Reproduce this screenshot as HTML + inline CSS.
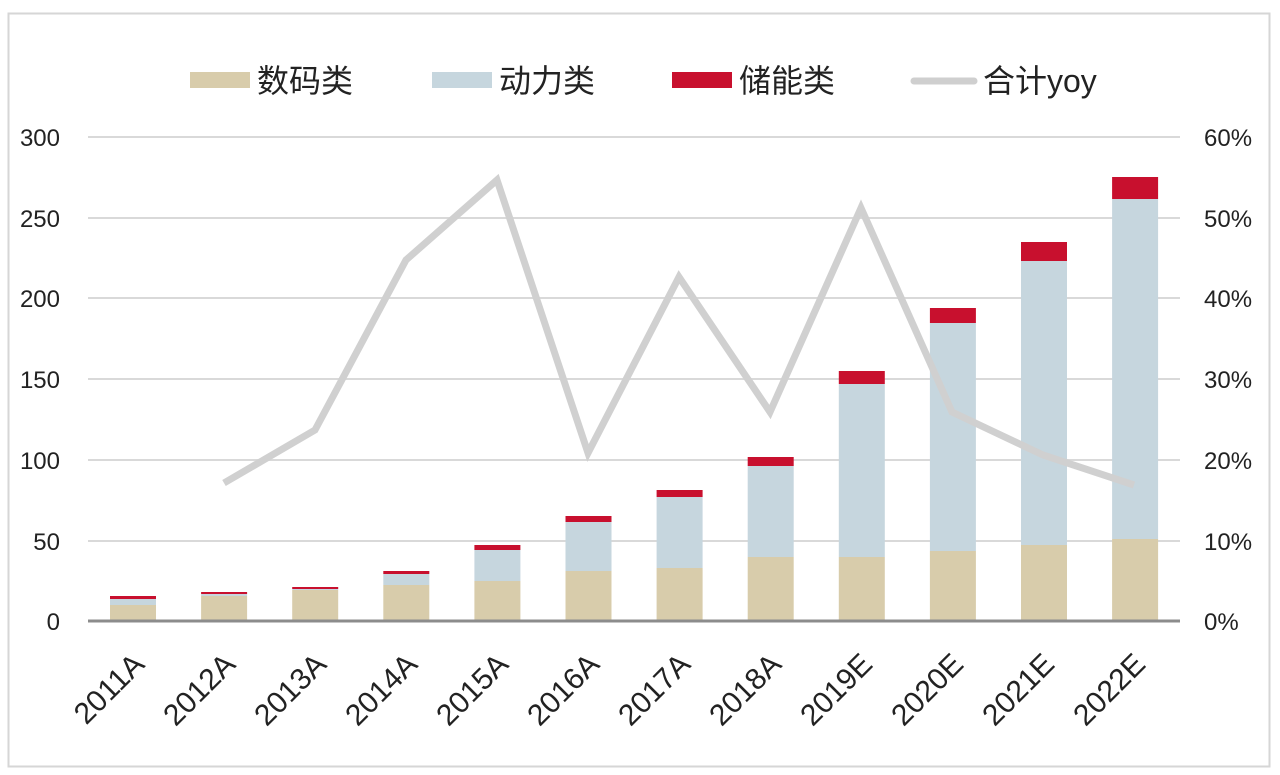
<!DOCTYPE html>
<html><head><meta charset="utf-8"><style>
html,body{margin:0;padding:0;background:#fff;}
svg{display:block;font-family:"Liberation Sans","Noto Sans CJK SC",sans-serif;}
</style></head><body>
<svg width="1280" height="775" viewBox="0 0 1280 775" xmlns="http://www.w3.org/2000/svg">
<rect x="8.5" y="13.5" width="1261" height="753" fill="#fff" stroke="#d6d6d6" stroke-width="2"/>
<rect x="190" y="72" width="60" height="16" fill="#d8ccab"/>
<text x="257" y="92" font-size="32" fill="#222">数码类</text>
<rect x="432" y="72" width="60" height="16" fill="#c6d6de"/>
<text x="499" y="92" font-size="32" fill="#222">动力类</text>
<rect x="672" y="72" width="60" height="16" fill="#c8102e"/>
<text x="739" y="92" font-size="32" fill="#222">储能类</text>
<line x1="914" y1="81" x2="974" y2="81" stroke="#cfcfcf" stroke-width="7" stroke-linecap="round"/>
<text x="983" y="92" font-size="32" fill="#222">合计yoy</text>
<g stroke="#d9d9d9" stroke-width="2">
<line x1="88" y1="137" x2="1180" y2="137"/>
<line x1="88" y1="218" x2="1180" y2="218"/>
<line x1="88" y1="298" x2="1180" y2="298"/>
<line x1="88" y1="379" x2="1180" y2="379"/>
<line x1="88" y1="460" x2="1180" y2="460"/>
<line x1="88" y1="541" x2="1180" y2="541"/>
</g>
<g font-size="24" fill="#222" text-anchor="end">
<text x="60" y="146">300</text><text x="60" y="227">250</text><text x="60" y="307">200</text>
<text x="60" y="388">150</text><text x="60" y="469">100</text><text x="60" y="550">50</text><text x="60" y="630">0</text>
</g>
<g font-size="24" fill="#222">
<text x="1204" y="146">60%</text><text x="1204" y="227">50%</text><text x="1204" y="307">40%</text>
<text x="1204" y="388">30%</text><text x="1204" y="469">20%</text><text x="1204" y="550">10%</text><text x="1204" y="630">0%</text>
</g>
<g fill="#d8ccab">
<rect x="110" y="605" width="46" height="16"/>
<rect x="201.1" y="596" width="46" height="25"/>
<rect x="292.2" y="590" width="46" height="31"/>
<rect x="383.3" y="585" width="46" height="36"/>
<rect x="474.4" y="581" width="46" height="40"/>
<rect x="565.5" y="571" width="46" height="50"/>
<rect x="656.6" y="568" width="46" height="53"/>
<rect x="747.7" y="557" width="46" height="64"/>
<rect x="838.8" y="557" width="46" height="64"/>
<rect x="929.9" y="551" width="46" height="70"/>
<rect x="1021" y="545" width="46" height="76"/>
<rect x="1112.1" y="539" width="46" height="82"/>
</g>
<g fill="#c6d6de">
<rect x="110" y="599" width="46" height="6"/>
<rect x="201.1" y="594" width="46" height="2"/>
<rect x="292.2" y="589" width="46" height="1"/>
<rect x="383.3" y="574" width="46" height="11"/>
<rect x="474.4" y="550" width="46" height="31"/>
<rect x="565.5" y="522" width="46" height="49"/>
<rect x="656.6" y="497" width="46" height="71"/>
<rect x="747.7" y="466" width="46" height="91"/>
<rect x="838.8" y="384" width="46" height="173"/>
<rect x="929.9" y="323" width="46" height="228"/>
<rect x="1021" y="261" width="46" height="284"/>
<rect x="1112.1" y="199" width="46" height="340"/>
</g>
<g fill="#c8102e">
<rect x="110" y="596" width="46" height="3"/>
<rect x="201.1" y="592" width="46" height="2"/>
<rect x="292.2" y="587" width="46" height="2"/>
<rect x="383.3" y="571" width="46" height="3"/>
<rect x="474.4" y="545" width="46" height="5"/>
<rect x="565.5" y="516" width="46" height="6"/>
<rect x="656.6" y="490" width="46" height="7"/>
<rect x="747.7" y="457" width="46" height="9"/>
<rect x="838.8" y="371" width="46" height="13"/>
<rect x="929.9" y="308" width="46" height="15"/>
<rect x="1021" y="242" width="46" height="19"/>
<rect x="1112.1" y="177" width="46" height="22"/>
</g>
<line x1="88" y1="621" x2="1180" y2="621" stroke="#8c8c8c" stroke-width="3"/>
<polyline fill="none" stroke="#d0d0d0" stroke-width="7" points="224,483 315,430 406,260 497,180 588,453 679,277 770,412 861,208 952,412 1043,455 1134,485"/>
<g font-size="30" fill="#222" text-anchor="end">
<text transform="translate(146,666) rotate(-45)">2011A</text>
<text transform="translate(237,666) rotate(-45)">2012A</text>
<text transform="translate(328,666) rotate(-45)">2013A</text>
<text transform="translate(419,666) rotate(-45)">2014A</text>
<text transform="translate(510,666) rotate(-45)">2015A</text>
<text transform="translate(601,666) rotate(-45)">2016A</text>
<text transform="translate(692,666) rotate(-45)">2017A</text>
<text transform="translate(783,666) rotate(-45)">2018A</text>
<text transform="translate(874,666) rotate(-45)">2019E</text>
<text transform="translate(965,666) rotate(-45)">2020E</text>
<text transform="translate(1056,666) rotate(-45)">2021E</text>
<text transform="translate(1147,666) rotate(-45)">2022E</text>
</g>
</svg>
</body></html>
